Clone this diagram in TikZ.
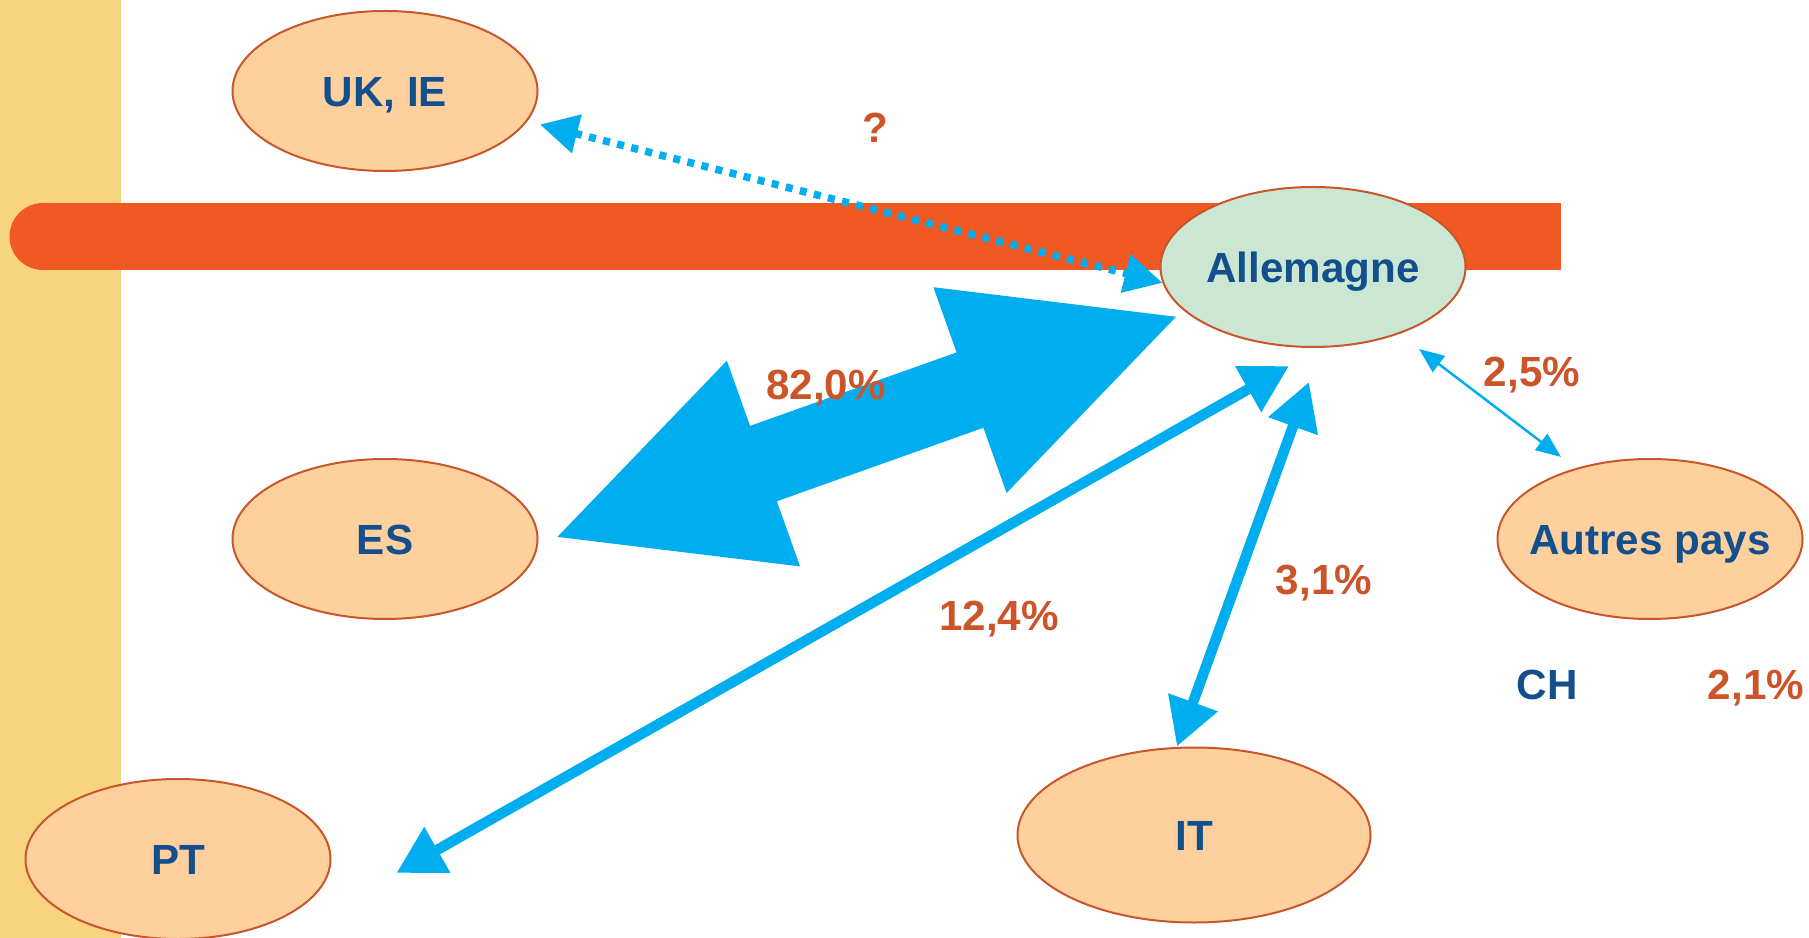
\documentclass[tikz,border=0pt]{standalone}
\usepackage{fontspec}
\setmainfont{Liberation Sans}
\usetikzlibrary{shapes.geometric,arrows.meta,calc}

\definecolor{stripyellow}{HTML}{F8D481}
\definecolor{barorange}{HTML}{F05A22}
\definecolor{paysfill}{HTML}{FDD09E}
\definecolor{rimorange}{HTML}{C9562A}
\definecolor{allgreen}{HTML}{CCE6D4}
\definecolor{flowblue}{HTML}{00AEEF}
\definecolor{textblue}{HTML}{134F8C}
\definecolor{textorange}{HTML}{CB5529}

\tikzset{
    boldtext/.style={font=\bfseries\fontsize{12}{14}\selectfont, text height=8.6pt, text depth=0pt},
    pays/.style={ellipse, draw=rimorange, line width=0.2mm, fill=paysfill,
        minimum width=30.5mm, minimum height=16mm, inner sep=0pt,
        text=textblue, boldtext},
    paystext/.style={text=textblue, boldtext},
    pct/.style={text=textorange, boldtext},
    flow/.style={draw=flowblue, line width=1.05mm,
        {Triangle[length=4.7mm,width=5mm]}-{Triangle[length=4.7mm,width=5mm]}},
    fatflow/.style={draw=flowblue, line width=8mm,
        {Triangle[length=22.5mm,width=20mm]}-{Triangle[length=22.5mm,width=20mm]}},
    thinflow/.style={draw=flowblue, line width=0.25mm,
        {Triangle[length=2.5mm,width=2mm]}-{Triangle[length=2.5mm,width=2mm]}},
    dotflow/.style={draw=flowblue, line width=0.75mm, dash pattern=on 0.7mm off 0.75mm,
        {Triangle[length=3.8mm,width=3.8mm]}-{Triangle[length=3.8mm,width=3.8mm]}}
}

\begin{document}
\begin{tikzpicture}[x=0.1mm,y=-0.1mm]
    \useasboundingbox (0,0) rectangle (1809,938);
    \fill[stripyellow] (0,0) rectangle (121,938);
    \fill[barorange] (43,236.5) circle[radius=3.35mm];
    \fill[barorange] (43,203) rectangle (1561,270);

    \node[pays] (uk) at (385,91) {UK, IE};
    \node[pays, fill=allgreen] (all) at (1313,267) {Allemagne};
    \node[pays] (es) at (385,539) {ES};
    \node[pays, inner xsep=-2mm] (autres) at (1650,539) {Autres pays};
    \node[pays] (pt) at (178,859) {PT};
    \node[pays, minimum width=35.3mm, minimum height=17.5mm] (it) at (1194,835) {IT};

    \draw[dotflow, shorten <=1.3mm] (uk.-12) -- (all.186);
    \draw[fatflow, shorten <=0.5mm] (all.200) -- ($(es.east)+(13,0)$);
    \draw[flow] ($(pt.east)+(65,14)$) -- ($(all.south)+(-24,18)$);
    \draw[flow] ($(it.north)+(-17,0)$) -- ($(all.south)+(-4,34)$);
    \draw[thinflow] ($(all.south)+(106,1)$) -- ($(autres.north)+(-89,-1)$);

    \node[pct] (q) at (875,127) {?};
    \node[pct] (p82) at (826,384) {82,0\%};
    \node[pct] (p124) at (999,615) {12,4\%};
    \node[pct] (p31) at (1324,579) {3,1\%};
    \node[pct] (p25) at (1532,371) {2,5\%};
    \node[paystext] (ch) at (1547,684) {CH};
    \node[pct] (p21) at (1756,684) {2,1\%};
\end{tikzpicture}
\end{document}
